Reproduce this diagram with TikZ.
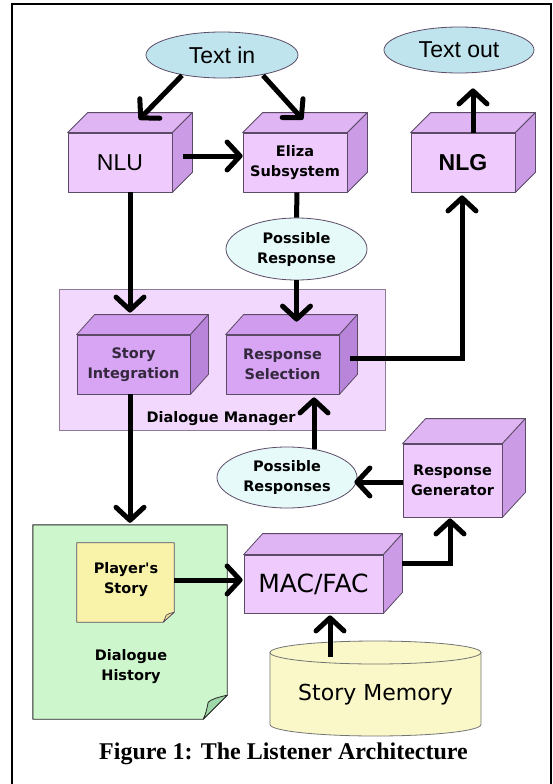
\documentclass[tikz,border=0pt]{standalone}
\usepackage{fontspec}
\setmainfont{Liberation Serif}
\newfontfamily\arialf{Liberation Sans}
\newfontfamily\comicf{DejaVu Sans}
\usetikzlibrary{arrows.meta,shapes.geometric,calc}

\definecolor{boxfront}{HTML}{EECBFC}
\definecolor{boxtop}{HTML}{DFB5F4}
\definecolor{boxside}{HTML}{CB9BE6}
\definecolor{corefront}{HTML}{D8A5F4}
\definecolor{coretop}{HTML}{D09CEE}
\definecolor{coreside}{HTML}{B985DA}
\definecolor{panel}{HTML}{F2D8FC}
\definecolor{paneledge}{HTML}{8C7D95}
\definecolor{edgec}{HTML}{5B4B66}
\definecolor{cloudin}{HTML}{BFE4ED}
\definecolor{cloudpale}{HTML}{E6FAFA}
\definecolor{paper}{HTML}{CDF6CD}
\definecolor{paperfold}{HTML}{9FD8A9}
\definecolor{notey}{HTML}{F8F3A8}
\definecolor{notefold}{HTML}{EFE58E}
\definecolor{drum}{HTML}{FAF8C8}
\definecolor{coreink}{HTML}{33283D}

% top and right faces of a box whose front face is node #1
\newcommand\slab[5]{%
  \filldraw[face,fill=#4] (#1.north west) -- ++(#2,-#3) -- ($(#1.north east)+(#2,-#3)$) -- (#1.north east) -- cycle;
  \filldraw[face,fill=#5] (#1.north east) -- ++(#2,-#3) -- ($(#1.south east)+(#2,-#3)$) -- (#1.south east) -- cycle;
}
\newcommand\comicb{\comicf\bfseries\fontsize{14.5}{20}\selectfont}

\begin{document}
\begin{tikzpicture}[x=1pt,y=-1pt,
  face/.style={draw=edgec,line width=0.8pt,line join=round},
  front/.style={face,rectangle,inner sep=0pt,align=center},
  cloud/.style={ellipse,draw=edgec,line width=0.8pt,inner sep=0pt,align=center},
  flow/.style={line width=5pt,-{Straight Barb[length=13pt,width=28pt,round]}},
  wire/.style={line width=5pt},
  label/.style={inner sep=0pt,align=center}]
\useasboundingbox (0,0) rectangle (553,784);

% frame
\draw[line width=1.5pt] (12,784) -- (12,4) -- (551,4) -- (551,784);

% input and output
\node[cloud,fill=cloudin,minimum width=152pt,minimum height=46pt,font=\arialf\fontsize{23}{26}\selectfont] (textin) at (222,55) {Text in};
\node[cloud,fill=cloudin,minimum width=150pt,minimum height=46pt,font=\arialf\fontsize{23}{26}\selectfont] (textout) at (459,50) {Text out};

% top row of modules
\node[front,fill=boxfront,minimum width=104pt,minimum height=59pt,font=\arialf\fontsize{23}{26}\selectfont] (nlu) at (120,162.5) {NLU};
\slab{nlu}{20}{20}{boxtop}{boxside}
\node[front,fill=boxfront,minimum width=104pt,minimum height=59pt,font=\comicb] (eliza) at (295,162.5) {Eliza\\Subsystem};
\slab{eliza}{20}{20}{boxtop}{boxside}
\node[front,fill=boxfront,minimum width=104pt,minimum height=59pt,font=\arialf\bfseries\fontsize{23}{26}\selectfont] (nlg) at (463,162.5) {NLG};
\slab{nlg}{20}{20}{boxtop}{boxside}

\node[cloud,fill=cloudpale,minimum width=141pt,minimum height=62pt,font=\comicb] (possresp) at (296.5,249) {Possible\\Response};

% dialogue manager
\node[rectangle,draw=paneledge,line width=0.8pt,fill=panel,minimum width=326pt,minimum height=141pt,inner sep=0pt] (dm) at (222,359.5) {};
\node[label,font=\comicb] (dmlabel) at (221,419) {Dialogue Manager};
\node[front,fill=corefront,minimum width=113pt,minimum height=59pt,font=\comicb,text=coreink] (si) at (133.5,364.5) {Story\\Integration};
\slab{si}{18}{20}{coretop}{coreside}
\node[front,fill=corefront,minimum width=113pt,minimum height=59pt,font=\comicb,text=coreink] (rs) at (282.5,364.5) {Response\\Selection};
\slab{rs}{18}{20}{coretop}{coreside}

\node[cloud,fill=cloudpale,minimum width=140pt,minimum height=61pt,font=\comicb] (possresps) at (287,477.5) {Possible\\Responses};
\node[front,fill=boxfront,minimum width=99pt,minimum height=73pt,font=\comicb] (rg) at (452.5,480.5) {Response\\Generator};
\slab{rg}{23}{25}{boxtop}{boxside}

% dialogue history page with the player's note
\node[rectangle,minimum width=194pt,minimum height=194pt,inner sep=0pt] (hist) at (130,622) {};
\filldraw[draw=black!85,line width=0.9pt,fill=paper,line join=round]
  (hist.north west) -- (hist.north east) -- ($(hist.south east)+(0,-24)$) -- ($(hist.south east)+(-24,0)$) -- (hist.south west) -- cycle;
\filldraw[draw=black!85,line width=0.8pt,fill=paperfold,line join=round]
  ($(hist.south east)+(0,-24)$) .. controls ($(hist.south east)+(-9,-22)$) and ($(hist.south east)+(-16,-20)$) .. ($(hist.south east)+(-19,-17)$)
  .. controls ($(hist.south east)+(-20,-12)$) and ($(hist.south east)+(-21,-6)$) .. ($(hist.south east)+(-24,0)$) -- cycle;
\node[label,font=\comicb] (histlabel) at (131,667) {Dialogue\\History};

\node[rectangle,minimum width=97pt,minimum height=79pt,inner sep=0pt] (ps) at (125.5,582.5) {};
\filldraw[draw=edgec,line width=0.8pt,fill=notey,line join=round]
  (ps.north west) -- (ps.north east) -- ($(ps.south east)+(0,-10)$) -- ($(ps.south east)+(-11,0)$) -- (ps.south west) -- cycle;
\filldraw[draw=edgec,line width=0.7pt,fill=notefold,line join=round]
  ($(ps.south east)+(0,-10)$) .. controls ($(ps.south east)+(-4,-9)$) and ($(ps.south east)+(-7,-8)$) .. ($(ps.south east)+(-8,-7)$)
  .. controls ($(ps.south east)+(-9,-4)$) and ($(ps.south east)+(-10,-2)$) .. ($(ps.south east)+(-11,0)$) -- cycle;
\node[label,font=\comicb] (pslabel) at (126,580) {Player's\\Story};

% retrieval module and story memory
\node[front,fill=boxfront,minimum width=139pt,minimum height=58pt,font=\comicf\fontsize{25}{28}\selectfont] (mac) at (313.5,584) {MAC/FAC};
\slab{mac}{19}{21}{boxtop}{boxside}

\filldraw[draw=black!55,line width=0.8pt,fill=drum]
  (270,652.5) -- (270,724.5) .. controls (270,730.85) and (317.23,736) .. (375.5,736)
  .. controls (433.77,736) and (481,730.85) .. (481,724.5) -- (481,652.5) -- cycle;
\filldraw[draw=black!55,line width=0.8pt,fill=drum] (375.5,652.5) ellipse [x radius=105.5pt, y radius=11.5pt];
\node[label,font=\comicf\fontsize{22}{26}\selectfont] (mem) at (375.5,695) {Story Memory};
\coordinate (memtop) at (330,657);

% connectors
\draw[flow] ($(textin.south)+(-40,-3)$) -- ($(nlu.north)+(19,-13)$);
\draw[flow] ($(textin.south)+(41,-3)$) -- ($(eliza.north)+(8,-13)$);
\draw[flow] ($(nlu.east)+(11,-6.5)$) -- ($(eliza.west)+(0,-6.5)$);
\draw[flow] ($(nlg.north)+(10,0)$) -- ($(textout.south)+(14,15)$);
\draw[flow] ($(nlu.south)+(10,0)$) -- ($(si.north)+(-3.5,-22)$);
\draw[wire] ($(eliza.south)+(2,0)$) -- (possresp.north);
\draw[flow] (possresp.south) -- ($(rs.north)+(14,-13)$);
\draw[flow] ($(rs.east)+(11,-6.5)$) -| ($(nlg.south)+(-1,3)$);
\draw[flow] ($(possresps.north)+(27,2)$) -- ($(rs.south)+(31.5,3)$);
\draw[flow] ($(rg.west)+(0,1.5)$) -- ($(possresps.east)+(-3,4.5)$);
\draw[flow] ($(si.south)+(-3.5,0)$) -- ($(hist.north)+(0,-2)$);
\draw[flow] ($(ps.east)+(0,-2.5)$) -- ($(mac.west)+(-1,-4)$);
\draw[flow] ($(mac.east)+(19,-21)$) -| ($(rg.south)+(-2.5,1)$);
\draw[flow] (memtop) -- ($(mac.south)+(16.5,2)$);

% caption
\node[label,font=\bfseries\fontsize{24}{28}\selectfont,anchor=base] (caption) at (283.5,759) {Figure 1: The Listener Architecture};
\end{tikzpicture}
\end{document}
